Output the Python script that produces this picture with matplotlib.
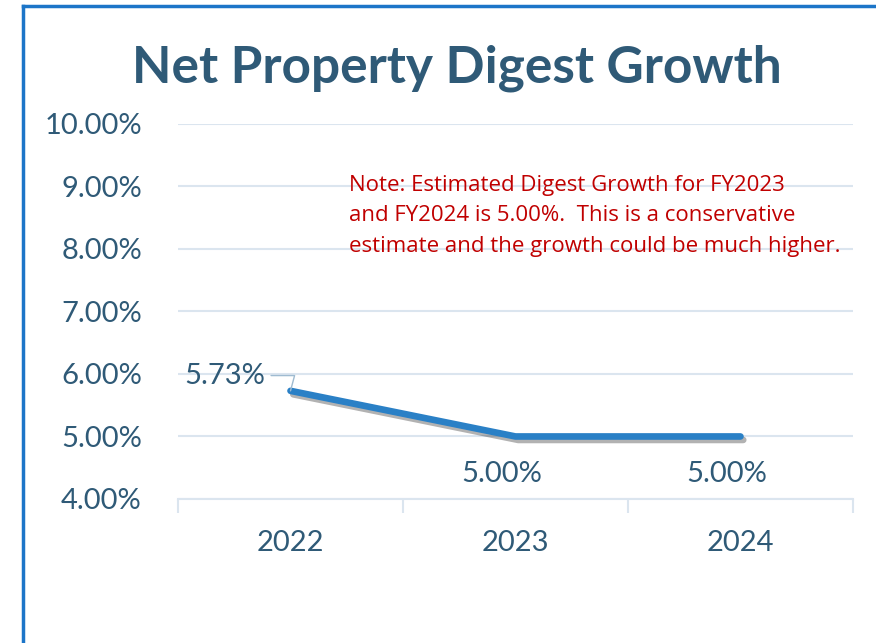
import matplotlib.pyplot as plt
import matplotlib.patheffects as pe
from matplotlib.lines import Line2D

# data
years = ["2022", "2023", "2024"]
growth = [5.73, 5.00, 5.00]
growth_labels = ["5.73%", "5.00%", "5.00%"]
y_ticks = [4, 5, 6, 7, 8, 9, 10]

title_color = "#2f5a77"
line_color = "#2a80c6"
grid_color = "#dbe5ef"
note_color = "#c00000"

plt.rcParams['font.family'] = ['Lato', 'DejaVu Sans']

fig = plt.figure(figsize=(8.76, 6.43), dpi=100)
ax = fig.add_axes([0.2032, 0.2240, 0.7705, 0.5832])

x = list(range(len(years)))
ax.plot(x, growth, color=line_color, lw=4.8, solid_capstyle='round', zorder=3,
        path_effects=[pe.SimpleLineShadow(offset=(2, -2.5), shadow_color='k', alpha=0.3),
                      pe.Normal()])

ax.set_xlim(-0.5, 2.5)
ax.set_ylim(4, 10)
ax.set_yticks(y_ticks)
ax.set_yticklabels([f"{v:.2f}%" for v in y_ticks], fontsize=21, color=title_color)
ax.tick_params(axis='y', length=0, pad=26)
ax.set_xticks(x)
ax.set_xticklabels(years, fontsize=21, color=title_color)
ax.set_xticks([-0.5, 0.5, 1.5, 2.5], minor=True)
ax.tick_params(axis='x', which='major', length=0, pad=22)
ax.tick_params(axis='x', which='minor', length=10, width=1.5, color=grid_color)
ax.yaxis.grid(True, color=grid_color, lw=1.5)
ax.set_axisbelow(True)
for s in ['top', 'right', 'left']:
    ax.spines[s].set_visible(False)
ax.spines['bottom'].set_color(grid_color)
ax.spines['bottom'].set_linewidth(1.5)

# data labels
ax.annotate(growth_labels[0], xy=(x[0], growth[0]), xytext=(-18, 11), textcoords='offset points',
            ha='right', va='center', fontsize=21, color=title_color,
            arrowprops=dict(arrowstyle='-', color='#9fbbd1', lw=1,
                            connectionstyle='angle,angleA=0,angleB=75,rad=0', shrinkA=2, shrinkB=0))
for i in [1, 2]:
    ax.annotate(growth_labels[i], xy=(x[i], growth[i]), xytext=(-10, -27), textcoords='offset points',
                ha='center', va='center', fontsize=21, color=title_color)

fig.text(0.521, 1 - 82 / 643, "Net Property Digest Growth", ha='center', va='baseline',
         fontsize=37, fontweight='bold', color=title_color)

fig.text(0.398, 1 - 216 / 643, "Note: Estimated Digest Growth for FY2023\nand FY2024 is 5.00%.  This is a conservative\nestimate and the growth could be much higher.",
         ha='left', va='center', fontsize=16, color=note_color, linespacing=1.6,
         family=['Open Sans', 'DejaVu Sans'])

# frame border
fig.add_artist(Line2D([23 / 876, 23 / 876], [0, 1 - 6 / 643], color='#1c75c8', lw=2.5))
fig.add_artist(Line2D([23 / 876, 0.999], [1 - 6 / 643, 1 - 6 / 643], color='#1c75c8', lw=2.5))

fig.savefig("out.png", dpi=100)
